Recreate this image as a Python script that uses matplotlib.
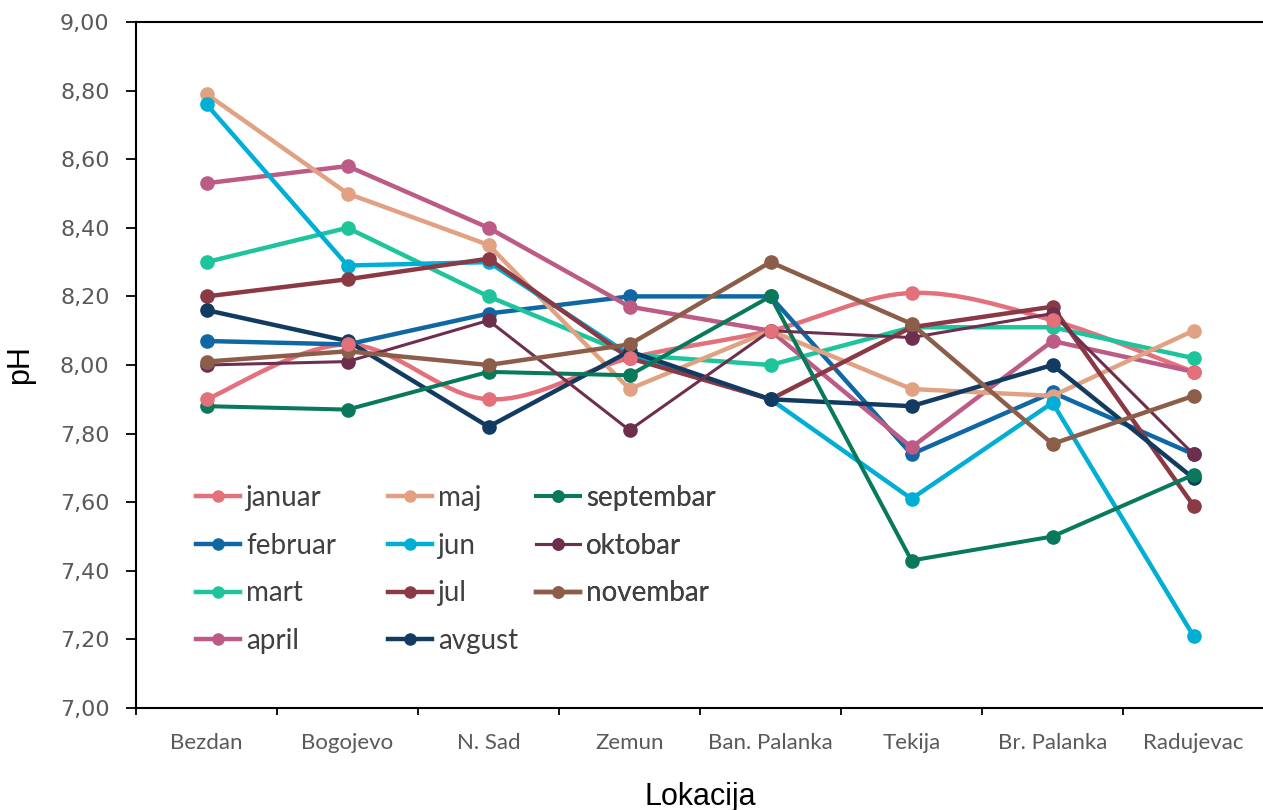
import matplotlib
matplotlib.use("Agg")
import matplotlib.pyplot as plt
from matplotlib.path import Path
from matplotlib.patches import PathPatch
from matplotlib.lines import Line2D
from matplotlib.ticker import FuncFormatter, FixedLocator
import numpy as np

locations = ["Bezdan", "Bogojevo", "N. Sad", "Zemun", "Ban. Palanka", "Tekija", "Br. Palanka", "Radujevac"]

januar    = [7.90, 8.06, 7.90, 8.02, 8.10, 8.21, 8.13, 7.98]
februar   = [8.07, 8.06, 8.15, 8.20, 8.20, 7.74, 7.92, 7.74]
mart      = [8.30, 8.40, 8.20, 8.03, 8.00, 8.11, 8.11, 8.02]
april     = [8.53, 8.58, 8.40, 8.17, 8.10, 7.76, 8.07, 7.98]
maj       = [8.79, 8.50, 8.35, 7.93, 8.10, 7.93, 7.91, 8.10]
jun       = [8.76, 8.29, 8.30, 8.03, 7.90, 7.61, 7.89, 7.21]
jul       = [8.20, 8.25, 8.31, 8.02, 7.90, 8.11, 8.17, 7.59]
avgust    = [8.16, 8.07, 7.82, 8.04, 7.90, 7.88, 8.00, 7.67]
septembar = [7.88, 7.87, 7.98, 7.97, 8.20, 7.43, 7.50, 7.68]
oktobar   = [8.00, 8.01, 8.13, 7.81, 8.10, 8.08, 8.15, 7.74]
novembar  = [8.01, 8.04, 8.00, 8.06, 8.30, 8.12, 7.77, 7.91]

months = ["januar", "februar", "mart", "april", "maj", "jun", "jul", "avgust",
          "septembar", "oktobar", "novembar"]
series = [januar, februar, mart, april, maj, jun, jul, avgust, septembar, oktobar, novembar]
colors = ["#E3707A", "#0F67A3", "#1EC49B", "#BC5B85", "#E0A282", "#00AED6",
          "#8B3A45", "#123B62", "#08795A", "#6E2F4E", "#8C5E4A"]
widths = [3.2, 3.2, 3.2, 3.2, 3.2, 3.2, 3.2, 3.2, 2.9, 2.2, 3.2]
smooth = [True] + [False] * 10


def smooth_path(x, y):
    # excel-like smoothed line: cubic bezier through the points
    pts = np.column_stack([x, y])
    n = len(pts)
    verts = [pts[0]]
    codes = [Path.MOVETO]
    for i in range(n - 1):
        p0 = pts[i - 1] if i > 0 else pts[i]
        p1 = pts[i]
        p2 = pts[i + 1]
        p3 = pts[i + 2] if i + 2 < n else pts[i + 1]
        c1 = p1 + (p2 - p0) / 6
        c2 = p2 - (p3 - p1) / 6
        verts += [c1, c2, p2]
        codes += [Path.CURVE4] * 3
    return Path(verts, codes)


fig = plt.figure(figsize=(12.63, 8.10), dpi=100)
ax = fig.add_axes([136 / 1263, 1 - 708 / 810, 1128 / 1263, 686 / 810])

x = np.arange(len(locations))
handles = []
for name, vals, c, lw, sm in zip(months, series, colors, widths, smooth):
    if sm:
        patch = PathPatch(smooth_path(x, vals), facecolor="none", edgecolor=c, lw=lw,
                          capstyle="round", joinstyle="round", zorder=2)
        ax.add_patch(patch)
        ax.plot(x, vals, ls="none", marker="o", ms=9.5, color=c, zorder=3)
    else:
        ax.plot(x, vals, marker="o", ms=9.5, color=c, lw=lw, zorder=2,
                solid_joinstyle="round")
    handles.append(Line2D([], [], color=c, lw=lw, marker="o", ms=8))

ax.set_xlim(-0.5, len(locations) - 0.5)
ax.set_ylim(7.0, 9.0)
ax.set_yticks(np.arange(7.0, 9.01, 0.2))
ax.yaxis.set_major_formatter(FuncFormatter(lambda v, p: f"{v:.2f}".replace(".", ",")))
ax.set_xticks(x)
ax.set_xticklabels(locations)
ax.xaxis.set_minor_locator(FixedLocator(np.arange(-0.5, len(locations), 1.0)))
ax.tick_params(axis="x", which="major", length=0, pad=18, labelsize=16, labelcolor="#595959")
ax.tick_params(axis="x", which="minor", length=5, width=1.3, direction="out", color="black")
ax.tick_params(axis="y", length=7, width=1.3, direction="out", pad=12, labelsize=16,
               labelcolor="#595959")
for lbl in ax.get_xticklabels():
    lbl.set_family(["Lato", "DejaVu Sans"])

for s in ["left", "bottom", "top"]:
    ax.spines[s].set_linewidth(1.5)
    ax.spines[s].set_color("black")
ax.spines["right"].set_visible(False)

ax.set_ylabel("pH", fontsize=22, family="Liberation Sans", labelpad=18)
ax.set_xlabel("Lokacija", fontsize=22, family="Liberation Sans", labelpad=21)

# legend in three columns placed like the original
col_x = [196, 388, 536]
groups = [(0, 4), (4, 8), (8, 11)]
for cx, (a, b) in zip(col_x, groups):
    leg = ax.legend(handles[a:b], months[a:b], loc="upper left",
                    bbox_to_anchor=((cx - 136) / 1128, (708 - 485) / 686),
                    frameon=False, prop={"family": "Lato", "size": 20},
                    handlelength=1.6, handletextpad=0.2, labelspacing=0.78,
                    borderpad=0, borderaxespad=0)
    for t in leg.get_texts():
        t.set_color("#404040")
    ax.add_artist(leg)

fig.savefig("out.png", dpi=100)
